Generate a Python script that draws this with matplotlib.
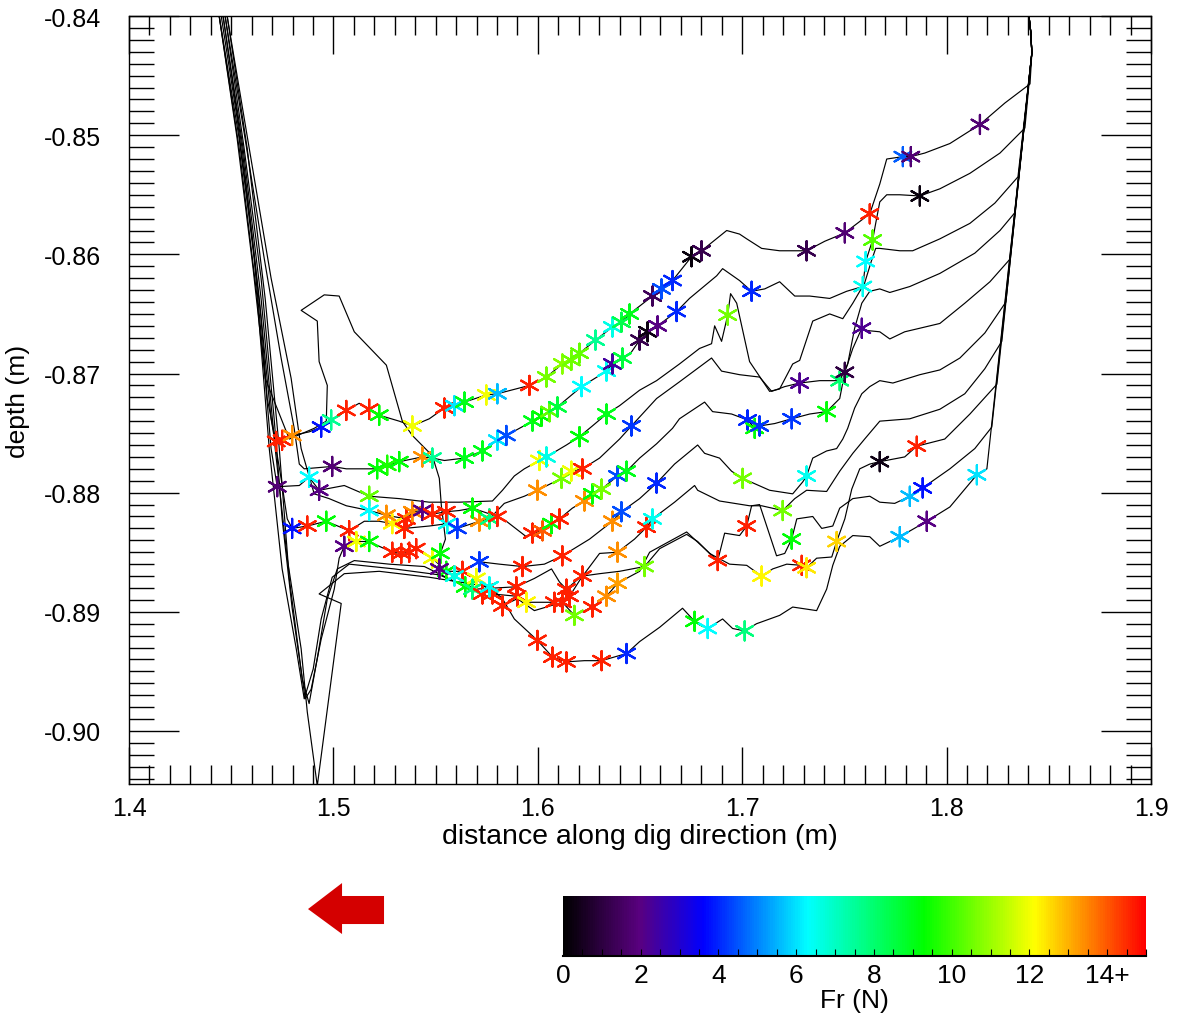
import numpy as np
import matplotlib
matplotlib.use("Agg")
import matplotlib.pyplot as plt
from matplotlib.colors import LinearSegmentedColormap, Normalize
from matplotlib.cm import ScalarMappable
from matplotlib.ticker import MultipleLocator, FormatStrFormatter
from matplotlib.patches import Polygon

nan = np.nan

# surface profiles after each pass: (distance m, depth m, Fr N) ; Fr = nan -> no marker
cut1 = [(1.4451,-0.8400,nan),(1.4529,-0.8486,nan),(1.4597,-0.8578,nan),(1.4646,-0.8654,nan),
        (1.4676,-0.8721,nan),(1.4705,-0.8746,nan),(1.4720,-0.8757,14.6),(1.4749,-0.8756,14.6),
        (1.4798,-0.8752,13.4),(1.4881,-0.8749,nan),(1.4940,-0.8745,3.8),(1.4989,-0.8739,7.6),
        (1.5063,-0.8731,14.6),(1.5126,-0.8725,nan),(1.5175,-0.8730,14.6),(1.5224,-0.8735,9.2),
        (1.5322,-0.8740,nan),(1.5386,-0.8744,12.0),(1.5469,-0.8738,nan),(1.5543,-0.8729,14.6),
        (1.5592,-0.8727,6.0),(1.5641,-0.8724,9.0),(1.5748,-0.8718,12.0),(1.5802,-0.8717,5.6),
        (1.5959,-0.8710,14.6),(1.6042,-0.8703,10.6),(1.6120,-0.8692,10.8),(1.6164,-0.8689,10.5),
        (1.6204,-0.8683,10.4),(1.6282,-0.8672,7.6),(1.6365,-0.8661,6.6),(1.6409,-0.8657,8.4),
        (1.6449,-0.8650,9.0),(1.6561,-0.8635,1.4),(1.6605,-0.8629,4.4),(1.6659,-0.8622,4.0),
        (1.6752,-0.8602,0.2),(1.6801,-0.8597,1.2),(1.6924,-0.8580,nan),(1.6987,-0.8583,nan),
        (1.7022,-0.8587,nan),(1.7095,-0.8595,nan),(1.7183,-0.8597,nan),(1.7315,-0.8597,1.2),
        (1.7404,-0.8589,nan),(1.7502,-0.8582,1.8),(1.7624,-0.8566,14.6),(1.7673,-0.8541,nan),
        (1.7707,-0.8520,nan),(1.7786,-0.8518,4.6),(1.7825,-0.8518,1.8),(1.7893,-0.8515,nan),
        (1.8016,-0.8507,nan),(1.8163,-0.8491,1.8),(1.8285,-0.8473,nan),(1.8408,-0.8457,nan)]

cut2 = [(1.4470,-0.8400,nan),(1.4568,-0.8503,nan),(1.4661,-0.8603,nan),(1.4744,-0.8687,nan),
        (1.4808,-0.8746,nan),(1.4833,-0.8776,nan),(1.4857,-0.8780,nan),(1.4994,-0.8778,1.8),
        (1.5063,-0.8780,nan),(1.5214,-0.8780,9.2),(1.5263,-0.8777,9.6),(1.5322,-0.8774,9.2),
        (1.5435,-0.8770,13.4),(1.5484,-0.8771,7.6),(1.5543,-0.8773,nan),(1.5641,-0.8771,9.0),
        (1.5729,-0.8765,9.0),(1.5802,-0.8756,6.0),(1.5846,-0.8752,4.4),(1.5974,-0.8740,9.0),
        (1.6018,-0.8736,9.3),(1.6057,-0.8732,10.4),(1.6096,-0.8728,8.6),(1.6214,-0.8711,6.3),
        (1.6336,-0.8698,6.4),(1.6365,-0.8692,2.4),(1.6414,-0.8687,8.6),(1.6458,-0.8682,nan),
        (1.6498,-0.8672,1.2),(1.6537,-0.8665,0.3),(1.6586,-0.8660,2.0),(1.6679,-0.8648,4.0),
        (1.6742,-0.8637,nan),(1.6875,-0.8618,nan),(1.6904,-0.8612,nan),(1.6987,-0.8622,nan),
        (1.7046,-0.8631,4.0),(1.7110,-0.8629,nan),(1.7183,-0.8623,nan),(1.7257,-0.8635,nan),
        (1.7330,-0.8635,nan),(1.7428,-0.8637,nan),(1.7511,-0.8631,nan),(1.7590,-0.8627,6.5),
        (1.7604,-0.8606,6.3),(1.7638,-0.8588,10.2),(1.7653,-0.8574,nan),(1.7673,-0.8556,nan),
        (1.7707,-0.8550,nan),(1.7771,-0.8550,nan),(1.7869,-0.8551,0.2),(1.7967,-0.8545,nan),
        (1.8114,-0.8532,nan),(1.8261,-0.8515,nan),(1.8383,-0.8494,nan)]

cut3 = [(1.4441,-0.8400,nan),(1.4539,-0.8503,nan),(1.4612,-0.8603,nan),(1.4666,-0.8704,nan),
        (1.4695,-0.8763,nan),(1.4725,-0.8795,1.8),(1.4833,-0.8794,nan),(1.4881,-0.8787,6.3),
        (1.4930,-0.8798,2.0),(1.5053,-0.8794,nan),(1.5175,-0.8803,10.4),(1.5322,-0.8805,nan),
        (1.5469,-0.8808,nan),(1.5616,-0.8808,nan),(1.5778,-0.8807,nan),(1.5827,-0.8798,nan),
        (1.5885,-0.8786,nan),(1.5934,-0.8780,nan),(1.6008,-0.8773,12.0),(1.6042,-0.8770,6.6),
        (1.6140,-0.8760,nan),(1.6204,-0.8753,9.2),(1.6267,-0.8744,nan),(1.6336,-0.8734,9.0),
        (1.6400,-0.8727,nan),(1.6498,-0.8714,nan),(1.6581,-0.8706,nan),(1.6693,-0.8692,nan),
        (1.6791,-0.8679,nan),(1.6850,-0.8675,nan),(1.6865,-0.8660,nan),(1.6899,-0.8673,nan),
        (1.6929,-0.8651,10.6),(1.6943,-0.8633,nan),(1.6973,-0.8641,nan),(1.7036,-0.8690,nan),
        (1.7134,-0.8715,nan),(1.7183,-0.8713,nan),(1.7247,-0.8692,nan),(1.7281,-0.8689,nan),
        (1.7345,-0.8656,nan),(1.7428,-0.8650,nan),(1.7492,-0.8654,nan),(1.7541,-0.8641,nan),
        (1.7599,-0.8624,nan),(1.7633,-0.8605,nan),(1.7653,-0.8595,nan),(1.7673,-0.8595,nan),
        (1.7771,-0.8597,nan),(1.7834,-0.8597,nan),(1.7967,-0.8587,nan),(1.8114,-0.8574,nan),
        (1.8236,-0.8557,nan),(1.8349,-0.8535,nan)]

cut4 = [(1.4460,-0.8400,nan),(1.4553,-0.8511,nan),(1.4637,-0.8637,nan),(1.4695,-0.8738,nan),
        (1.4744,-0.8788,nan),(1.4774,-0.8822,nan),(1.4798,-0.8830,3.8),(1.4872,-0.8828,14.6),
        (1.4965,-0.8824,9.2),(1.5077,-0.8832,14.6),(1.5151,-0.8824,nan),(1.5224,-0.8824,nan),
        (1.5288,-0.8826,12.2),(1.5347,-0.8830,14.6),(1.5469,-0.8828,nan),(1.5557,-0.8826,6.5),
        (1.5606,-0.8830,4.2),(1.5714,-0.8824,13.4),(1.5763,-0.8822,7.8),(1.5836,-0.8809,nan),
        (1.5934,-0.8803,nan),(1.5998,-0.8798,13.4),(1.6116,-0.8788,10.6),(1.6164,-0.8782,12.0),
        (1.6218,-0.8780,14.6),(1.6302,-0.8771,nan),(1.6400,-0.8755,nan),(1.6458,-0.8744,4.2),
        (1.6581,-0.8721,nan),(1.6693,-0.8707,nan),(1.6850,-0.8687,nan),(1.6899,-0.8698,nan),
        (1.6987,-0.8701,nan),(1.7085,-0.8703,nan),(1.7144,-0.8715,nan),(1.7208,-0.8711,nan),
        (1.7281,-0.8708,2.2),(1.7379,-0.8706,nan),(1.7477,-0.8706,8.0),(1.7516,-0.8692,nan),
        (1.7550,-0.8662,nan),(1.7585,-0.8641,nan),(1.7624,-0.8631,nan),(1.7673,-0.8629,nan),
        (1.7722,-0.8632,nan),(1.7820,-0.8627,nan),(1.7967,-0.8616,nan),(1.8138,-0.8599,nan),
        (1.8261,-0.8580,nan),(1.8334,-0.8565,nan)]

cut5 = [(1.4480,-0.8400,nan),(1.4588,-0.8511,nan),(1.4695,-0.8620,nan),(1.4793,-0.8704,nan),
        (1.4842,-0.8763,nan),(1.4906,-0.8801,nan),(1.4979,-0.8805,nan),(1.5063,-0.8811,nan),
        (1.5175,-0.8815,6.3),(1.5259,-0.8819,13.4),(1.5357,-0.8822,14.6),(1.5386,-0.8816,13.4),
        (1.5435,-0.8815,2.0),(1.5484,-0.8818,14.6),(1.5552,-0.8816,14.6),(1.5616,-0.8815,nan),
        (1.5680,-0.8813,9.2),(1.5802,-0.8820,14.6),(1.5846,-0.8824,nan),(1.5944,-0.8837,nan),
        (1.5974,-0.8834,14.6),(1.6023,-0.8832,14.0),(1.6067,-0.8826,9.2),(1.6106,-0.8822,14.6),
        (1.6169,-0.8813,nan),(1.6228,-0.8807,13.4),(1.6267,-0.8801,9.2),(1.6312,-0.8797,10.6),
        (1.6390,-0.8786,4.4),(1.6434,-0.8782,9.0),(1.6498,-0.8771,nan),(1.6581,-0.8759,nan),
        (1.6659,-0.8746,nan),(1.6693,-0.8738,nan),(1.6816,-0.8724,nan),(1.6855,-0.8732,nan),
        (1.6948,-0.8734,nan),(1.7026,-0.8739,4.0),(1.7061,-0.8746,9.2),(1.7085,-0.8744,4.2),
        (1.7159,-0.8742,nan),(1.7242,-0.8738,4.2),(1.7330,-0.8734,nan),(1.7413,-0.8732,9.2),
        (1.7477,-0.8721,nan),(1.7502,-0.8699,1.0),(1.7541,-0.8679,nan),(1.7585,-0.8662,2.2),
        (1.7614,-0.8664,nan),(1.7673,-0.8665,nan),(1.7722,-0.8671,nan),(1.7795,-0.8665,nan),
        (1.7869,-0.8662,nan),(1.7967,-0.8658,nan),(1.8089,-0.8641,nan),(1.8212,-0.8623,nan),
        (1.8310,-0.8604,nan)]

cut6 = [(1.4470,-0.8400,nan),(1.4563,-0.8511,nan),(1.4646,-0.8620,nan),(1.4710,-0.8738,nan),
        (1.4749,-0.8822,nan),(1.4798,-0.8897,nan),(1.4862,-0.8973,nan),(1.4891,-0.8965,nan),
        (1.4940,-0.8923,nan),(1.5004,-0.8881,nan),(1.5028,-0.8855,nan),(1.5053,-0.8845,2.0),
        (1.5112,-0.8841,12.0),(1.5175,-0.8841,9.2),(1.5224,-0.8845,nan),(1.5288,-0.8850,14.6),
        (1.5332,-0.8851,14.6),(1.5371,-0.8850,14.6),(1.5405,-0.8847,14.6),(1.5484,-0.8855,12.0),
        (1.5552,-0.8866,9.2),(1.5631,-0.8866,14.6),(1.5714,-0.8858,4.2),(1.5812,-0.8860,nan),
        (1.5925,-0.8862,14.6),(1.6032,-0.8860,nan),(1.6120,-0.8853,14.6),(1.6253,-0.8839,nan),
        (1.6365,-0.8824,13.4),(1.6409,-0.8816,4.4),(1.6498,-0.8805,nan),(1.6581,-0.8792,4.0),
        (1.6669,-0.8776,nan),(1.6782,-0.8760,nan),(1.6816,-0.8767,nan),(1.6889,-0.8771,nan),
        (1.6948,-0.8782,nan),(1.7002,-0.8788,10.6),(1.7134,-0.8798,nan),(1.7247,-0.8801,nan),
        (1.7296,-0.8791,nan),(1.7315,-0.8786,6.5),(1.7345,-0.8771,nan),(1.7413,-0.8765,nan),
        (1.7462,-0.8763,nan),(1.7492,-0.8755,nan),(1.7516,-0.8746,nan),(1.7550,-0.8729,nan),
        (1.7585,-0.8717,nan),(1.7624,-0.8711,nan),(1.7673,-0.8706,nan),(1.7737,-0.8708,nan),
        (1.7869,-0.8701,nan),(1.7967,-0.8697,nan),(1.8065,-0.8687,nan),(1.8187,-0.8666,nan),
        (1.8290,-0.8640,nan)]

cut7 = [(1.4441,-0.8400,nan),(1.4529,-0.8503,nan),(1.4607,-0.8612,nan),(1.4666,-0.8704,nan),
        (1.4784,-0.8755,nan),(1.4906,-0.8746,nan),(1.4965,-0.8740,nan),(1.4970,-0.8710,nan),
        (1.4930,-0.8690,nan),(1.4921,-0.8656,nan),(1.4842,-0.8647,nan),(1.4955,-0.8634,nan),
        (1.5028,-0.8635,nan),(1.5102,-0.8665,nan),(1.5259,-0.8693,nan),(1.5337,-0.8740,nan),
        (1.5386,-0.8752,nan),(1.5484,-0.8769,nan),(1.5518,-0.8788,nan),(1.5528,-0.8811,nan),
        (1.5548,-0.8839,nan),(1.5523,-0.8851,9.2),(1.5518,-0.8864,2.0),(1.5592,-0.8870,6.6),
        (1.5690,-0.8881,nan),(1.5895,-0.8879,14.6),(1.5983,-0.8872,nan),(1.6067,-0.8864,nan),
        (1.6106,-0.8875,nan),(1.6140,-0.8881,14.6),(1.6228,-0.8868,nan),(1.6302,-0.8851,nan),
        (1.6390,-0.8850,13.4),(1.6473,-0.8839,nan),(1.6532,-0.8829,14.6),(1.6561,-0.8822,6.5),
        (1.6669,-0.8808,nan),(1.6767,-0.8794,nan),(1.6782,-0.8798,nan),(1.6889,-0.8807,nan),
        (1.7036,-0.8811,nan),(1.7095,-0.8811,nan),(1.7198,-0.8815,10.6),(1.7257,-0.8805,nan),
        (1.7315,-0.8798,nan),(1.7413,-0.8799,nan),(1.7477,-0.8782,nan),(1.7541,-0.8767,nan),
        (1.7599,-0.8755,nan),(1.7673,-0.8740,nan),(1.7820,-0.8738,nan),(1.7967,-0.8730,nan),
        (1.8089,-0.8717,nan),(1.8187,-0.8696,nan),(1.8270,-0.8673,nan)]

cut8 = [(1.4480,-0.8400,nan),(1.4578,-0.8511,nan),(1.4666,-0.8637,nan),(1.4735,-0.8763,nan),
        (1.4784,-0.8872,nan),(1.4847,-0.8956,nan),(1.4881,-0.8977,nan),(1.4921,-0.8939,nan),
        (1.4970,-0.8889,nan),(1.5019,-0.8864,nan),(1.5102,-0.8857,nan),(1.5273,-0.8860,nan),
        (1.5445,-0.8862,nan),
        (1.5645,-0.8879,9.2),(1.5699,-0.8872,12.0),(1.5778,-0.8885,14.6),(1.5900,-0.8887,14.6),
        (1.5944,-0.8892,12.2),(1.6081,-0.8892,14.6),(1.6155,-0.8887,14.6),(1.6218,-0.8870,14.6),
        (1.6302,-0.8868,nan),(1.6400,-0.8866,nan),(1.6522,-0.8862,10.6),(1.6596,-0.8847,nan),
        (1.6728,-0.8835,nan),(1.6782,-0.8841,nan),(1.6840,-0.8851,nan),(1.6938,-0.8860,nan),
        (1.7022,-0.8861,nan),(1.7095,-0.8870,12.2),(1.7149,-0.8864,nan),(1.7218,-0.8860,nan),
        (1.7291,-0.8861,14.6),(1.7315,-0.8863,12.4),(1.7364,-0.8855,nan),(1.7438,-0.8854,nan),
        (1.7462,-0.8841,12.6),(1.7502,-0.8822,nan),(1.7536,-0.8797,nan),(1.7575,-0.8780,nan),
        (1.7624,-0.8776,nan),(1.7673,-0.8774,0.3),(1.7795,-0.8770,nan),(1.7854,-0.8761,14.6),
        (1.7991,-0.8755,nan),(1.8114,-0.8734,nan),(1.8246,-0.8709,nan)]

cut9 = [(1.4441,-0.8400,nan),(1.4539,-0.8511,nan),(1.4627,-0.8637,nan),(1.4686,-0.8763,nan),
        (1.4749,-0.8864,nan),(1.4818,-0.8931,nan),(1.4857,-0.8973,nan),(1.4901,-0.8948,nan),
        (1.4940,-0.8906,nan),(1.4994,-0.8871,nan),(1.5077,-0.8860,nan),(1.5298,-0.8864,nan),
        (1.5518,-0.8869,nan),
        (1.5680,-0.8881,7.8),(1.5729,-0.8885,14.6),(1.5827,-0.8895,14.6),(1.5900,-0.8889,nan),
        (1.5983,-0.8899,nan),(1.6120,-0.8892,14.6),(1.6179,-0.8903,10.6),(1.6267,-0.8896,14.6),
        (1.6336,-0.8887,13.4),(1.6390,-0.8876,13.2),(1.6498,-0.8866,nan),(1.6547,-0.8850,nan),
        (1.6728,-0.8833,nan),(1.6791,-0.8843,nan),(1.6880,-0.8857,14.6),(1.6914,-0.8834,nan),
        (1.6987,-0.8836,nan),(1.7022,-0.8828,14.6),(1.7046,-0.8811,nan),(1.7085,-0.8810,nan),
        (1.7168,-0.8853,nan),(1.7208,-0.8851,nan),(1.7242,-0.8839,9.2),(1.7267,-0.8822,nan),
        (1.7345,-0.8820,nan),(1.7389,-0.8830,nan),(1.7443,-0.8828,nan),(1.7477,-0.8813,nan),
        (1.7541,-0.8805,nan),(1.7624,-0.8803,nan),(1.7673,-0.8808,nan),(1.7746,-0.8809,nan),
        (1.7820,-0.8803,5.6),(1.7883,-0.8796,3.8),(1.8016,-0.8780,nan),(1.8138,-0.8763,nan),
        (1.8221,-0.8745,nan)]

cut10 = [(1.4460,-0.8400,nan),(1.4558,-0.8511,nan),(1.4646,-0.8637,nan),(1.4715,-0.8763,nan),
         (1.4774,-0.8855,nan),(1.4842,-0.8931,nan),(1.4872,-0.8984,nan),(1.4921,-0.9046,nan),
         (1.5038,-0.8893,nan),(1.4930,-0.8885,nan),(1.5053,-0.8868,nan),(1.5224,-0.8866,nan),
         (1.5469,-0.8871,nan),
         (1.5763,-0.8879,6.5),(1.5827,-0.8889,nan),(1.5885,-0.8906,nan),(1.5998,-0.8924,14.6),
         (1.6072,-0.8938,14.6),(1.6140,-0.8942,14.6),(1.6228,-0.8941,nan),(1.6312,-0.8941,14.6),
         (1.6434,-0.8935,4.0),(1.6498,-0.8925,nan),(1.6596,-0.8913,nan),(1.6708,-0.8897,nan),
         (1.6767,-0.8908,9.2),(1.6831,-0.8914,6.3),(1.6904,-0.8906,nan),(1.6953,-0.8914,nan),
         (1.7012,-0.8916,7.8),(1.7070,-0.8910,nan),(1.7183,-0.8903,nan),(1.7247,-0.8896,nan),
         (1.7364,-0.8899,nan),(1.7413,-0.8881,nan),(1.7443,-0.8861,nan),(1.7477,-0.8845,nan),
         (1.7541,-0.8836,nan),(1.7624,-0.8837,nan),(1.7673,-0.8845,nan),(1.7771,-0.8837,5.6),
         (1.7903,-0.8824,2.0),(1.8016,-0.8812,nan),(1.8148,-0.8785,6.0),(1.8197,-0.8780,nan)]

cuts = [cut1, cut2, cut3, cut4, cut5, cut6, cut7, cut8, cut9, cut10]

# top of the far wall, shared by every pass
rim_x = [1.8417, 1.8412, 1.8403]
rim_y = [-0.8431, -0.8414, -0.8400]

fr_max = 15.0
cbar_ticks = [0, 2, 4, 6, 8, 10, 12, 14]
cbar_labels = ['0', '2', '4', '6', '8', '10', '12', '14+']

# IDL-like rainbow (black -> purple -> blue -> cyan -> green -> yellow -> red)
rainbow = LinearSegmentedColormap.from_list('rainbow_idl', [
    (0.00, (0.0, 0.0, 0.0)),
    (0.13, (0.35, 0.0, 0.50)),
    (0.24, (0.0, 0.0, 1.0)),
    (0.42, (0.0, 1.0, 1.0)),
    (0.62, (0.0, 1.0, 0.0)),
    (0.81, (1.0, 1.0, 0.0)),
    (1.00, (1.0, 0.0, 0.0))])
norm = Normalize(vmin=0, vmax=fr_max)

plt.rcParams['font.family'] = ['Liberation Sans', 'DejaVu Sans']
plt.rcParams['axes.unicode_minus'] = False

fig = plt.figure(figsize=(11.86, 10.2), dpi=100)
ax = fig.add_axes([0.1088, 0.2304, 0.8617, 0.7529])

for cut in cuts:
    c = np.array(cut)
    ax.plot(np.concatenate([c[:, 0], rim_x]), np.concatenate([c[:, 1], rim_y]),
            color='k', lw=0.85, zorder=2)

for cut in cuts:
    c = np.array(cut)
    m = ~np.isnan(c[:, 2])
    ax.scatter(c[m, 0], c[m, 1], c=np.clip(c[m, 2], 0, fr_max), cmap=rainbow, norm=norm,
               marker=(6, 2, 0), s=190, linewidths=1.6, zorder=3)

ax.set_xlim(1.4, 1.9)
ax.set_ylim(-0.90445, -0.84)
ax.xaxis.set_major_locator(MultipleLocator(0.1))
ax.xaxis.set_minor_locator(MultipleLocator(0.01))
ax.yaxis.set_major_locator(MultipleLocator(0.01))
ax.yaxis.set_minor_locator(MultipleLocator(0.001))
ax.xaxis.set_major_formatter(FormatStrFormatter('%.1f'))
ax.yaxis.set_major_formatter(FormatStrFormatter('%.2f'))
ax.tick_params(which='both', direction='in', top=True, right=True, width=1.0, labelsize=18)
ax.tick_params(axis='y', which='major', length=36, pad=20)
ax.tick_params(axis='y', which='minor', length=18)
ax.tick_params(axis='x', which='major', length=27, pad=9)
ax.tick_params(axis='x', which='minor', length=14)
for s in ax.spines.values():
    s.set_linewidth(1.0)
ax.set_xlabel('distance along dig direction (m)', fontsize=20.5, labelpad=2)
ax.set_ylabel('depth (m)', fontsize=19, labelpad=10)

cax = fig.add_axes([0.4747, 0.0618, 0.4916, 0.0588])
cb = fig.colorbar(ScalarMappable(norm=norm, cmap=rainbow), cax=cax, orientation='horizontal')
cb.set_ticks(cbar_ticks)
cb.set_ticklabels(cbar_labels)
cax.xaxis.set_minor_locator(MultipleLocator(0.5))
cax.tick_params(which='both', direction='in', length=5, width=0.8, labelsize=19, pad=5)
cb.outline.set_visible(False)
cax.axhline(0, color='k', lw=1.5, clip_on=False)
cb.set_label('Fr (N)', fontsize=19, labelpad=1)

# dig direction arrow
arrow = Polygon([(0.2597, 0.1078), (0.2884, 0.1333), (0.2884, 0.1206), (0.3238, 0.1206),
                 (0.3238, 0.0931), (0.2884, 0.0931), (0.2884, 0.0833)],
                closed=True, transform=fig.transFigure, facecolor='#d40000', edgecolor='none')
fig.patches.append(arrow)

fig.savefig('out.png', dpi=100)
